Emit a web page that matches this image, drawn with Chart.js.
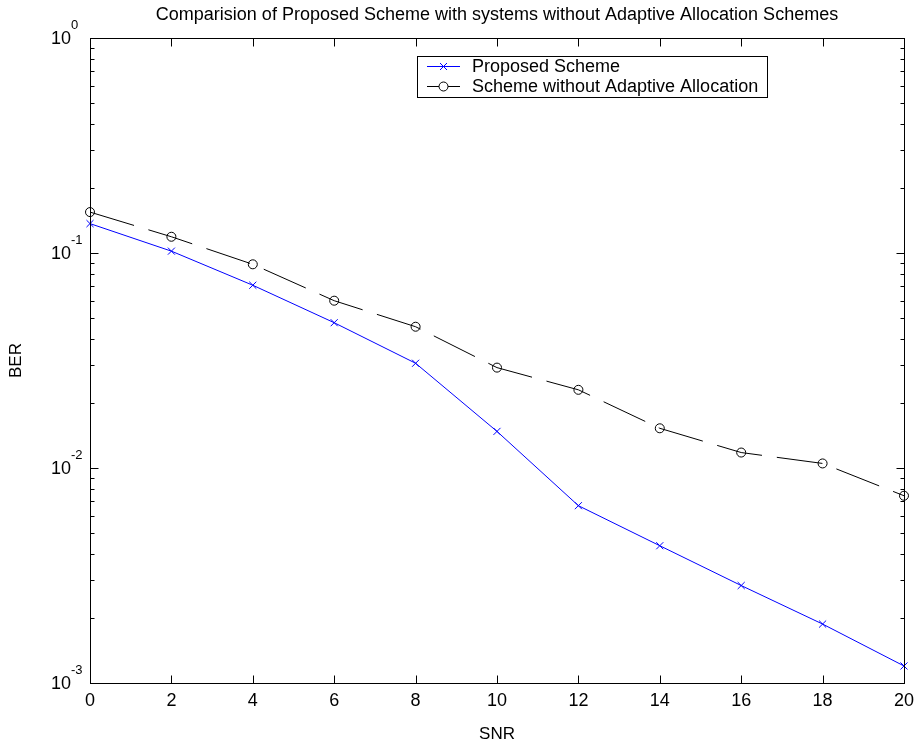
<!DOCTYPE html>
<html>
<head>
<meta charset="utf-8">
<script src="https://cdn.jsdelivr.net/npm/chart.js@4.4.1/dist/chart.umd.min.js"></script>
<style>
  html, body { margin: 0; padding: 0; background: #fff; }
  #wrap { width: 921px; height: 749px; }
</style>
</head>
<body>
<div id="wrap"><canvas id="c" width="921" height="749"></canvas></div>
<script>
const TITLE = 'Comparision of Proposed Scheme with systems without Adaptive Allocation Schemes';
const X_LABEL = 'SNR';
const Y_LABEL = 'BER';
const SNR = [0, 2, 4, 6, 8, 10, 12, 14, 16, 18, 20];
const BER_PROPOSED = [0.137, 0.102, 0.0708, 0.0474, 0.0307, 0.0148, 0.00668, 0.00435, 0.00284, 0.00188, 0.0012];
const BER_NO_ADAPT = [0.155, 0.119, 0.0886, 0.0600, 0.0454, 0.0293, 0.0231, 0.0153, 0.0118, 0.0105, 0.00743];
const SERIES_NAMES = ['Proposed Scheme', 'Scheme without Adaptive Allocation'];
const X_TICKS = [0, 2, 4, 6, 8, 10, 12, 14, 16, 18, 20];
const Y_DECADE_EXPONENTS = [-3, -2, -1, 0];

const FONT = '"Liberation Sans", Arial, Helvetica, sans-serif';
Chart.defaults.font.family = FONT;
Chart.defaults.color = '#000';

const framePlugin = {
  id: 'frame',
  afterDraw(chart) {
    const ctx = chart.ctx;
    const a = chart.chartArea;
    const xs = chart.scales.x, ys = chart.scales.y;
    const L = Math.round(a.left) + 0.5, R = Math.round(a.right) + 0.5;
    const T = Math.round(a.top) + 0.5, B = Math.round(a.bottom) + 0.5;
    ctx.save();
    // title centred over the plot area
    ctx.fillStyle = '#000';
    ctx.font = '18px ' + FONT;
    ctx.textAlign = 'center';
    ctx.textBaseline = 'middle';
    ctx.fillText(TITLE, (a.left + a.right) / 2, 15);

    ctx.strokeStyle = '#000';
    ctx.lineWidth = 1;
    ctx.strokeRect(L, T, R - L, B - T);
    ctx.beginPath();
    X_TICKS.forEach(v => {
      const px = Math.round(xs.getPixelForValue(v)) + 0.5;
      ctx.moveTo(px, B); ctx.lineTo(px, B - 8);
      ctx.moveTo(px, T); ctx.lineTo(px, T + 8);
    });
    Y_DECADE_EXPONENTS.forEach(e => {
      const py = Math.round(ys.getPixelForValue(Math.pow(10, e))) + 0.5;
      ctx.moveTo(L, py); ctx.lineTo(L + 8, py);
      ctx.moveTo(R, py); ctx.lineTo(R - 8, py);
      if (e < 0) {
        for (let m = 2; m <= 9; m++) {
          const pm = Math.round(ys.getPixelForValue(m * Math.pow(10, e))) + 0.5;
          ctx.moveTo(L, pm); ctx.lineTo(L + 4, pm);
          ctx.moveTo(R, pm); ctx.lineTo(R - 4, pm);
        }
      }
    });
    ctx.stroke();
    // y tick labels with superscript exponents
    ctx.fillStyle = '#000';
    Y_DECADE_EXPONENTS.forEach(e => {
      const py = ys.getPixelForValue(Math.pow(10, e));
      ctx.font = '18px ' + FONT;
      ctx.textAlign = 'right';
      ctx.textBaseline = 'middle';
      ctx.fillText('10', a.left - 19, py + 1);
      ctx.font = '13px ' + FONT;
      ctx.textAlign = 'left';
      ctx.fillText(String(e), a.left - 19, py - 13);
    });
    // legend
    const lx = 417, ly = 56, lw = 350, lh = 41;
    ctx.fillStyle = '#fff';
    ctx.fillRect(lx, ly, lw, lh);
    ctx.strokeStyle = '#000';
    ctx.strokeRect(lx + 0.5, ly + 0.5, lw, lh);
    const rows = [66, 86];
    chart.data.datasets.forEach((ds, i) => {
      const y = rows[i];
      ctx.strokeStyle = ds.borderColor;
      ctx.lineWidth = 1;
      ctx.setLineDash([]);
      ctx.beginPath();
      ctx.moveTo(427, y + 0.5); ctx.lineTo(460, y + 0.5);
      ctx.stroke();
      const cx = 443.5;
      ctx.beginPath();
      if (ds.pointStyle === 'crossRot') {
        ctx.moveTo(cx - 3.5, y - 3); ctx.lineTo(cx + 3.5, y + 4);
        ctx.moveTo(cx + 3.5, y - 3); ctx.lineTo(cx - 3.5, y + 4);
      } else {
        ctx.fillStyle = '#fff';
        ctx.arc(cx, y + 0.5, 4.5, 0, Math.PI * 2);
        ctx.fill();
      }
      ctx.stroke();
      ctx.fillStyle = '#000';
      ctx.font = '18px ' + FONT;
      ctx.textAlign = 'left';
      ctx.textBaseline = 'middle';
      ctx.fillText(ds.label, 472, y + 1);
    });
    ctx.restore();
  }
};

new Chart(document.getElementById('c'), {
  type: 'line',
  data: {
    labels: SNR,
    datasets: [
      {
        label: SERIES_NAMES[0],
        data: SNR.map((x, i) => ({ x, y: BER_PROPOSED[i] })),
        borderColor: '#0000ff',
        backgroundColor: 'transparent',
        borderWidth: 1,
        pointStyle: 'crossRot',
        pointRadius: 5,
        pointBorderWidth: 1,
        pointBorderColor: '#0000ff',
        tension: 0,
        clip: false
      },
      {
        label: SERIES_NAMES[1],
        data: SNR.map((x, i) => ({ x, y: BER_NO_ADAPT[i] })),
        borderColor: '#000000',
        backgroundColor: 'transparent',
        borderWidth: 1,
        borderDash: [46, 15],
        pointStyle: 'circle',
        pointRadius: 4.5,
        pointBorderWidth: 1,
        pointBorderColor: '#000000',
        pointBackgroundColor: 'transparent',
        tension: 0,
        clip: false
      }
    ]
  },
  options: {
    responsive: false,
    animation: false,
    devicePixelRatio: 1,
    layout: { padding: { left: 0, right: 12, top: 38, bottom: 0 } },
    plugins: {
      legend: { display: false },
      tooltip: { enabled: false },
      title: { display: false }
    },
    scales: {
      x: {
        type: 'linear',
        min: 0, max: 20,
        afterBuildTicks: s => { s.ticks = X_TICKS.map(v => ({ value: v })); },
        ticks: { font: { size: 18 }, color: '#000', padding: 7, maxRotation: 0, autoSkip: false },
        grid: { display: false, drawTicks: false },
        border: { display: false },
        title: { display: true, text: X_LABEL, color: '#000', font: { size: 17 }, padding: { top: 0, bottom: 4 } },
        afterFit: s => { s.height = 66; }
      },
      y: {
        type: 'logarithmic',
        min: 0.001, max: 1,
        ticks: { display: false },
        grid: { display: false, drawTicks: false },
        border: { display: false },
        title: { display: true, text: Y_LABEL, color: '#000', font: { size: 17 }, padding: { top: 6, bottom: 0 } },
        afterFit: s => { s.width = 90; }
      }
    }
  },
  plugins: [framePlugin]
});
</script>
</body>
</html>
